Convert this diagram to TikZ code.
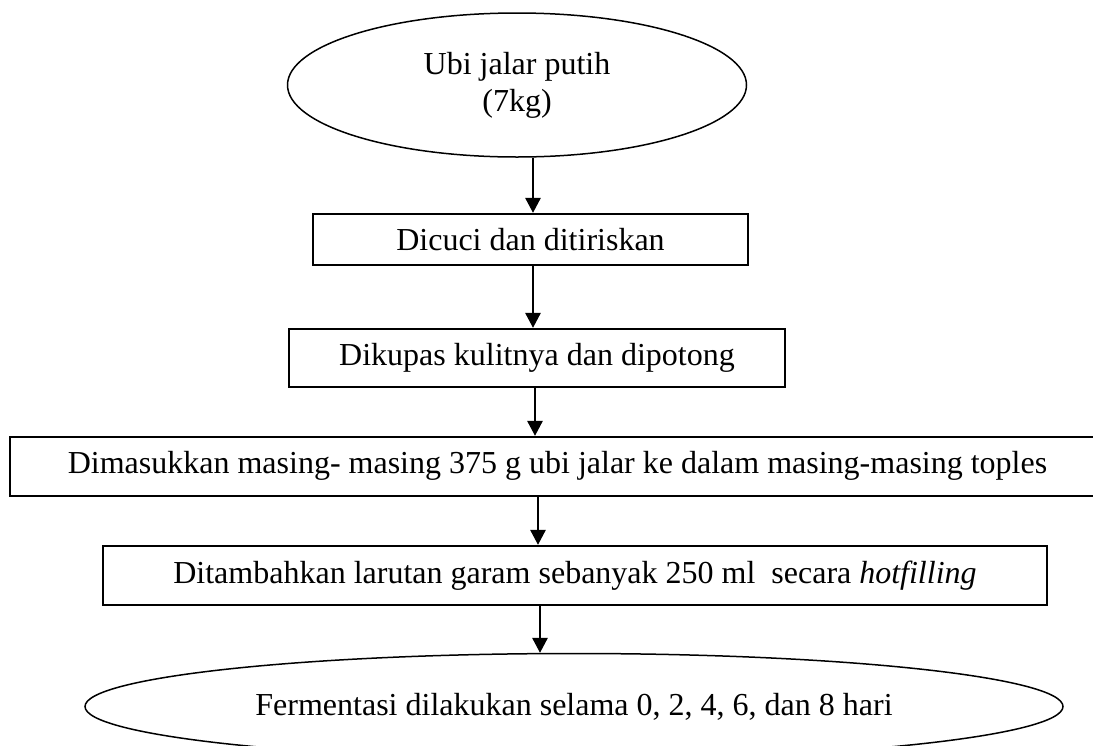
\documentclass[tikz,border=0pt]{standalone}
\usepackage{fontspec}
\setmainfont{Liberation Serif}
\usetikzlibrary{
  positioning,
  shapes.geometric,
  arrows.meta
}

\begin{document}
\begin{tikzpicture}[
  font=\fontsize{16}{18.5}\selectfont,
  terminal/.style={draw, ellipse, line width=0.75pt, inner sep=0pt, align=center},
  stepbox/.style={draw, rectangle, line width=1pt, inner sep=0pt, align=center},
  arrow/.style={line width=0.65pt, -{Triangle[width=7.8pt, length=7.5pt]}}
]
\clip (0,0) rectangle (546.5pt,-372.5pt);

% Start
\node[terminal, minimum width=229.5pt, minimum height=72pt] (ubi) at (258.5pt,-42.5pt) {Ubi jalar putih\\(7kg)};

% Process steps
\node[stepbox, minimum width=217.5pt, minimum height=25.5pt, below=27.5pt of ubi, xshift=6.75pt] (cuci) {Dicuci dan ditiriskan};
\node[stepbox, minimum width=248pt, minimum height=29pt, below=31pt of cuci, xshift=3.25pt] (kupas) {Dikupas kulitnya dan dipotong};
\node[stepbox, minimum width=547.5pt, minimum height=29.5pt, below=24pt of kupas, xshift=10.25pt] (masuk) {Dimasukkan masing- masing 375 g ubi jalar ke dalam masing-masing toples};
\node[stepbox, minimum width=472pt, minimum height=29.5pt, below=24pt of masuk, xshift=8.75pt] (garam) {Ditambahkan larutan garam sebanyak 250 ml~ secara \textit{hotfilling}};

% End
\node[terminal, minimum width=489pt, minimum height=53pt, below=23.5pt of garam, xshift=-0.5pt] (fermentasi) {Fermentasi dilakukan selama 0, 2, 4, 6, dan 8 hari};

% Arrows
\draw[arrow] ([xshift=8pt]ubi.south) -- ([xshift=8pt]ubi.south |- cuci.north);
\draw[arrow] ([xshift=1.25pt]cuci.south) -- ([xshift=1.25pt]cuci.south |- kupas.north);
\draw[arrow] ([xshift=-1pt]kupas.south) -- ([xshift=-1pt]kupas.south |- masuk.north);
\draw[arrow] ([xshift=-9.75pt]masuk.south) -- ([xshift=-9.75pt]masuk.south |- garam.north);
\draw[arrow] ([xshift=-17.5pt]garam.south) -- ([xshift=-17.5pt]garam.south |- fermentasi.north);

\end{tikzpicture}
\end{document}
